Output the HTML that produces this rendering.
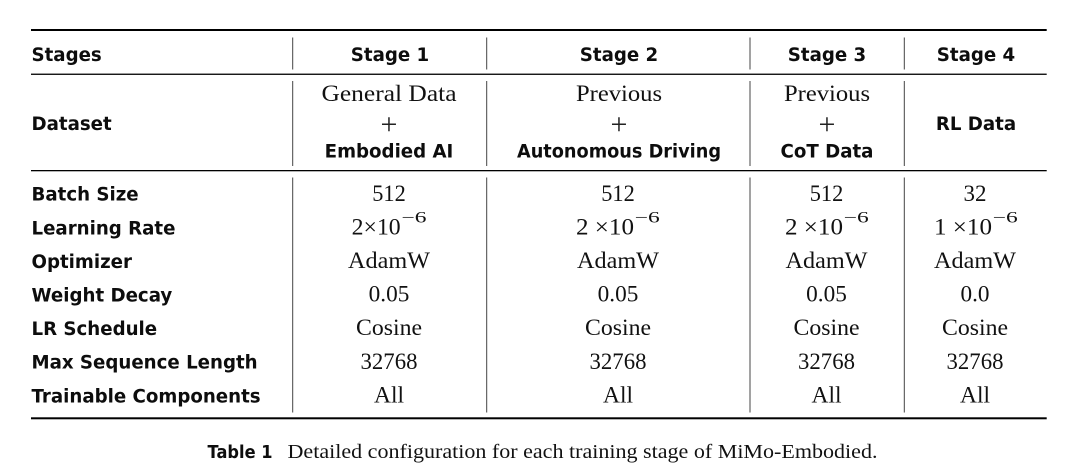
<!DOCTYPE html>
<html>
<head>
<meta charset="utf-8">
<style>
html,body{margin:0;padding:0;background:#fff;}
body{width:1080px;height:471px;overflow:hidden;}
svg{display:block;}
.s{font-family:"DejaVu Sans","Liberation Sans",sans-serif;font-weight:bold;font-size:18.2px;fill:#0d0d0d;}
.r{font-family:"Liberation Serif","DejaVu Serif",serif;font-size:23px;fill:#111;}
.p{font-family:"Liberation Serif","DejaVu Serif",serif;font-size:30px;fill:#222;}
.sup{font-family:"Liberation Serif","DejaVu Serif",serif;font-size:15.5px;fill:#111;}
</style>
</head>
<body>
<svg width="1080" height="471" viewBox="0 0 1080 471" xmlns="http://www.w3.org/2000/svg">
<rect x="0" y="0" width="1080" height="471" fill="#fff"/>
<!-- rules -->
<rect x="31" y="29" width="1015.7" height="2" fill="#000"/>
<rect x="31" y="73.6" width="1015.7" height="1.3" fill="#000"/>
<rect x="31" y="170" width="1015.7" height="1.3" fill="#000"/>
<rect x="31" y="417.3" width="1015.7" height="2" fill="#000"/>
<!-- verticals -->
<g fill="#444">
<rect x="292.2" y="37.5" width="1" height="32"/>
<rect x="486.2" y="37.5" width="1" height="32"/>
<rect x="749.5" y="37.5" width="1" height="32"/>
<rect x="903.8" y="37.5" width="1" height="32"/>
<rect x="292.2" y="81" width="1" height="85"/>
<rect x="486.2" y="81" width="1" height="85"/>
<rect x="749.5" y="81" width="1" height="85"/>
<rect x="903.8" y="81" width="1" height="85"/>
<rect x="292.2" y="177.5" width="1" height="235"/>
<rect x="486.2" y="177.5" width="1" height="235"/>
<rect x="749.5" y="177.5" width="1" height="235"/>
<rect x="903.8" y="177.5" width="1" height="235"/>
</g>

<!-- header -->
<text class="s" x="31.5" y="61">Stages</text>
<text class="s" x="390" y="61" text-anchor="middle">Stage 1</text>
<text class="s" x="619" y="61" text-anchor="middle">Stage 2</text>
<text class="s" x="827" y="61" text-anchor="middle">Stage 3</text>
<text class="s" x="976" y="61" text-anchor="middle">Stage 4</text>

<!-- dataset row -->
<text class="s" x="31.5" y="130">Dataset</text>
<text class="r" x="389" y="101" text-anchor="middle" textLength="135" lengthAdjust="spacingAndGlyphs">General Data</text>
<text class="p" x="389" y="134" text-anchor="middle">+</text>
<text class="s" x="389" y="157.3" text-anchor="middle">Embodied AI</text>

<text class="r" x="619" y="101" text-anchor="middle" textLength="86" lengthAdjust="spacingAndGlyphs">Previous</text>
<text class="p" x="619" y="134" text-anchor="middle">+</text>
<text class="s" x="619" y="157.3" text-anchor="middle" textLength="204" lengthAdjust="spacingAndGlyphs">Autonomous Driving</text>

<text class="r" x="827" y="101" text-anchor="middle" textLength="86" lengthAdjust="spacingAndGlyphs">Previous</text>
<text class="p" x="827" y="134" text-anchor="middle">+</text>
<text class="s" x="827" y="157.3" text-anchor="middle">CoT Data</text>

<text class="s" x="976" y="130" text-anchor="middle">RL Data</text>

<!-- body labels -->
<text class="s" x="31.5" y="200.7">Batch Size</text>
<text class="s" x="31.5" y="234.3">Learning Rate</text>
<text class="s" x="31.5" y="267.9">Optimizer</text>
<text class="s" x="31.5" y="301.5">Weight Decay</text>
<text class="s" x="31.5" y="335.1">LR Schedule</text>
<text class="s" x="31.5" y="368.7">Max Sequence Length</text>
<text class="s" x="31.5" y="402.3">Trainable Components</text>

<!-- Batch size -->
<text class="r" x="389" y="201" text-anchor="middle" textLength="33.5" lengthAdjust="spacingAndGlyphs">512</text>
<text class="r" x="618" y="201" text-anchor="middle" textLength="33.5" lengthAdjust="spacingAndGlyphs">512</text>
<text class="r" x="826.5" y="201" text-anchor="middle" textLength="33.5" lengthAdjust="spacingAndGlyphs">512</text>
<text class="r" x="975" y="201" text-anchor="middle" textLength="23" lengthAdjust="spacingAndGlyphs">32</text>

<!-- Learning rate -->
<text class="r" x="351.7" y="234.5" textLength="49" lengthAdjust="spacingAndGlyphs">2×10</text>
<text class="sup" x="401.5" y="222.5" textLength="25" lengthAdjust="spacingAndGlyphs">−6</text>

<text class="r" x="576" y="234.5" textLength="58" lengthAdjust="spacingAndGlyphs">2 ×10</text>
<text class="sup" x="634.8" y="222.5" textLength="25" lengthAdjust="spacingAndGlyphs">−6</text>

<text class="r" x="785" y="234.5" textLength="58" lengthAdjust="spacingAndGlyphs">2 ×10</text>
<text class="sup" x="843.8" y="222.5" textLength="25" lengthAdjust="spacingAndGlyphs">−6</text>

<text class="r" x="934" y="234.5" textLength="58" lengthAdjust="spacingAndGlyphs">1 ×10</text>
<text class="sup" x="992.8" y="222.5" textLength="25" lengthAdjust="spacingAndGlyphs">−6</text>

<!-- Optimizer -->
<text class="r" x="389" y="268" text-anchor="middle" textLength="82" lengthAdjust="spacingAndGlyphs">AdamW</text>
<text class="r" x="618" y="268" text-anchor="middle" textLength="82" lengthAdjust="spacingAndGlyphs">AdamW</text>
<text class="r" x="826.5" y="268" text-anchor="middle" textLength="82" lengthAdjust="spacingAndGlyphs">AdamW</text>
<text class="r" x="975" y="268" text-anchor="middle" textLength="82" lengthAdjust="spacingAndGlyphs">AdamW</text>

<!-- Weight decay -->
<text class="r" x="389" y="301.6" text-anchor="middle" textLength="40.7" lengthAdjust="spacingAndGlyphs">0.05</text>
<text class="r" x="618" y="301.6" text-anchor="middle" textLength="40.7" lengthAdjust="spacingAndGlyphs">0.05</text>
<text class="r" x="826.5" y="301.6" text-anchor="middle" textLength="40.7" lengthAdjust="spacingAndGlyphs">0.05</text>
<text class="r" x="975" y="301.6" text-anchor="middle" textLength="29" lengthAdjust="spacingAndGlyphs">0.0</text>

<!-- LR schedule -->
<text class="r" x="389" y="335.2" text-anchor="middle" textLength="66" lengthAdjust="spacingAndGlyphs">Cosine</text>
<text class="r" x="618" y="335.2" text-anchor="middle" textLength="66" lengthAdjust="spacingAndGlyphs">Cosine</text>
<text class="r" x="826.5" y="335.2" text-anchor="middle" textLength="66" lengthAdjust="spacingAndGlyphs">Cosine</text>
<text class="r" x="975" y="335.2" text-anchor="middle" textLength="66" lengthAdjust="spacingAndGlyphs">Cosine</text>

<!-- Max seq -->
<text class="r" x="389" y="368.8" text-anchor="middle" textLength="57" lengthAdjust="spacingAndGlyphs">32768</text>
<text class="r" x="618" y="368.8" text-anchor="middle" textLength="57" lengthAdjust="spacingAndGlyphs">32768</text>
<text class="r" x="826.5" y="368.8" text-anchor="middle" textLength="57" lengthAdjust="spacingAndGlyphs">32768</text>
<text class="r" x="975" y="368.8" text-anchor="middle" textLength="57" lengthAdjust="spacingAndGlyphs">32768</text>

<!-- Trainable -->
<text class="r" x="389" y="402.4" text-anchor="middle" textLength="30" lengthAdjust="spacingAndGlyphs">All</text>
<text class="r" x="618" y="402.4" text-anchor="middle" textLength="30" lengthAdjust="spacingAndGlyphs">All</text>
<text class="r" x="826.5" y="402.4" text-anchor="middle" textLength="30" lengthAdjust="spacingAndGlyphs">All</text>
<text class="r" x="975" y="402.4" text-anchor="middle" textLength="30" lengthAdjust="spacingAndGlyphs">All</text>

<!-- caption -->
<text class="s" x="207.5" y="458" style="font-size:17.5px" textLength="65" lengthAdjust="spacingAndGlyphs">Table 1</text>
<text class="r" x="287.5" y="458" style="font-size:20.5px" textLength="590" lengthAdjust="spacingAndGlyphs">Detailed configuration for each training stage of MiMo-Embodied.</text>
</svg>
</body>
</html>
